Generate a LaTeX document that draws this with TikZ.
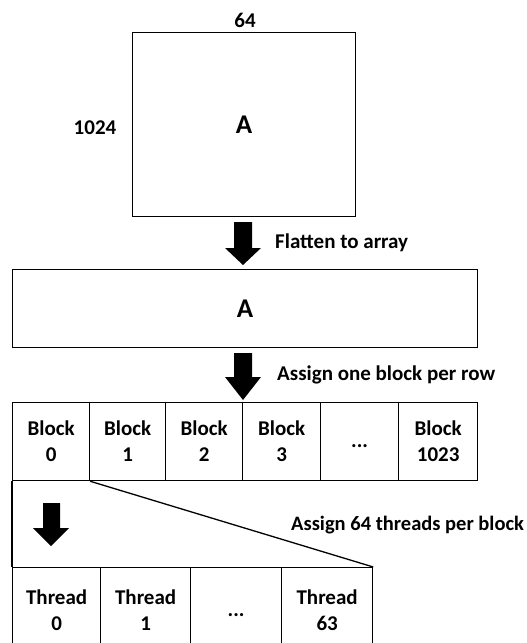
\documentclass[tikz,border=0pt]{standalone}
\usepackage{fontspec}
\setmainfont{Carlito}
\newcommand\twoline[2]{#1\\#2\vphantom{0}}
\newcommand\dotsline{\phantom{Block}\\\raisebox{14pt}{...}\vphantom{0}}
\begin{document}
\begin{tikzpicture}[x=1pt,y=-1pt,
  every node/.style={font=\fontsize{21}{26}\selectfont\bfseries},
  box/.style={draw,line width=1.3pt,inner sep=0pt,anchor=north west,align=center},
  bigtext/.style={font=\fontsize{27}{28}\selectfont\bfseries},
  lbl/.style={anchor=west,inner sep=0pt},
  bigarrow/.style={fill=black,draw=none}]
\useasboundingbox (0,0) rectangle (527,643);
\clip (0,0) rectangle (527,643);
% matrix
\node[box,bigtext,minimum width=223pt,minimum height=184pt] (sq) at (132,32) {A};
\node (w) at (245,20) {64};
\node (h) at (95,128) {1024};
% arrow 1
\fill[bigarrow] (234,222) -- (252,222) -- (252,248) -- (261,248) -- (243,265) -- (225,248) -- (234,248) -- cycle;
\node[lbl] (t1) at (275,243) {Flatten to array};
% flat array
\node[box,bigtext,minimum width=465pt,minimum height=78pt] (arr) at (12,269) {A};
% arrow 2
\fill[bigarrow] (234,353) -- (252,353) -- (252,377) -- (261,377) -- (243,400) -- (225,377) -- (234,377) -- cycle;
\node[lbl] (t2) at (277,375) {Assign one block per row};
% blocks
\node[box,minimum width=77pt,minimum height=78pt] (b0) at (12,402) {\twoline{Block}{0}};
\node[box,minimum width=76pt,minimum height=78pt] (b1) at (89,402) {\twoline{Block}{1}};
\node[box,minimum width=77pt,minimum height=78pt] (b2) at (165,402) {\twoline{Block}{2}};
\node[box,minimum width=78pt,minimum height=78pt] (b3) at (242,402) {\twoline{Block}{3}};
\node[box,minimum width=78pt,minimum height=78pt] (b4) at (320,402) {\dotsline};
\node[box,minimum width=79pt,minimum height=78pt] (b5) at (398,402) {\twoline{Block}{1023}};
% threads
\node[box,minimum width=88pt,minimum height=85pt] (th0) at (12,567) {\twoline{Thread}{0}};
\node[box,minimum width=90pt,minimum height=85pt] (th1) at (100,567) {\twoline{Thread}{1}};
\node[box,minimum width=91pt,minimum height=85pt] (th2) at (190,567) {\dotsline};
\node[box,minimum width=91pt,minimum height=85pt] (th3) at (281,567) {\twoline{Thread}{63}};
% zoom lines
\draw[line width=1.3pt] (b0.south west) -- (th0.north west);
\draw[line width=1.3pt] (b0.south east) -- (th3.north east);
% arrow 3
\fill[bigarrow] (43,503) -- (60,503) -- (60,528) -- (69,528) -- (51,546) -- (33,528) -- (43,528) -- cycle;
\node[lbl,font=\fontsize{20.5}{24}\selectfont\bfseries] (t3) at (291,525) {Assign 64 threads per block};
\end{tikzpicture}
\end{document}
